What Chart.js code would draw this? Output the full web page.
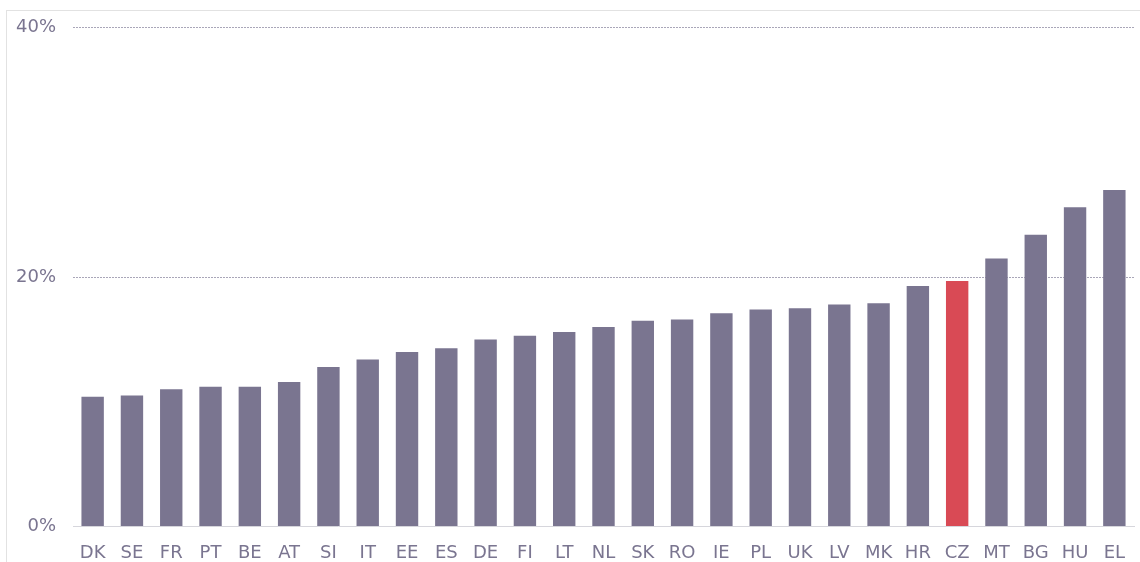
<!DOCTYPE html>
<html lang="en">
<head>
<meta charset="UTF-8" />
<title>Share by country</title>
<script src="https://cdn.jsdelivr.net/npm/chart.js"></script>
<style>
    html, body {
        margin: 0;
        padding: 0;
        background: #ffffff;
        overflow: hidden;
    }
    .frame {
        position: absolute;
        left: 6px;
        top: 10px;
        width: 1200px;
        height: 600px;
        border-top: 1px solid #e2e2e2;
        border-left: 1px solid #e2e2e2;
    }
    .wrap {
        position: absolute;
        left: 0;
        top: 0;
        width: 1140px;
        height: 562px;
    }
</style>
</head>
<body>
<div class="frame"></div>
<div class="wrap"><canvas id="chart"></canvas></div>

<script>
    // country codes, sorted as in the original
    const countries = ["DK", "SE", "FR", "PT", "BE", "AT", "SI", "IT", "EE", "ES", "DE", "FI", "LT", "NL",
        "SK", "RO", "IE", "PL", "UK", "LV", "MK", "HR", "CZ", "MT", "BG", "HU", "EL"];

    // values in %
    const shares = [10.4, 10.5, 11.0, 11.2, 11.2, 11.6, 12.8, 13.4, 14.0, 14.3, 15.0, 15.3, 15.6, 16.0,
        16.5, 16.6, 17.1, 17.4, 17.5, 17.8, 17.9, 19.3, 19.7, 21.5, 23.4, 25.6, 27.0];

    const highlight = "CZ";
    const yTicks = [0, 20, 40];

    const textColor = "#7a7590";
    const barColor = "#7a7590";
    const redColor = "#d94a55";

    new Chart(document.getElementById("chart"), {
        type: "bar",
        data: {
            labels: countries,
            datasets: [{
                data: shares,
                backgroundColor: countries.map(c => c === highlight ? redColor : barColor),
                categoryPercentage: 1,
                barPercentage: 0.57
            }]
        },
        options: {
            responsive: true,
            maintainAspectRatio: false,
            animation: false,
            layout: { padding: { top: 27, right: 6, left: 0, bottom: 0 } },
            plugins: {
                legend: { display: false },
                tooltip: { enabled: false }
            },
            scales: {
                x: {
                    grid: { display: false },
                    border: { display: true, color: "#d6d6dc", width: 1 },
                    ticks: {
                        color: textColor,
                        font: { family: "DejaVu Sans", size: 18 },
                        padding: 8,
                        maxRotation: 0,
                        autoSkip: false
                    },
                    afterFit: s => { s.height = 35.5; }
                },
                y: {
                    min: 0,
                    max: 40,
                    afterBuildTicks: s => { s.ticks = yTicks.map(v => ({ value: v })); },
                    grid: {
                        drawTicks: false,
                        color: ctx => ctx.tick && ctx.tick.value === 0 ? "rgba(0,0,0,0)" : "#a9a6b8",
                        lineWidth: 1
                    },
                    border: { display: false, dash: [2, 1] },
                    ticks: {
                        color: textColor,
                        font: { family: "DejaVu Sans", size: 18 },
                        padding: 17,
                        callback: v => v + "%"
                    },
                    afterFit: s => { s.width = 73; }
                }
            }
        }
    });
</script>
</body>
</html>
